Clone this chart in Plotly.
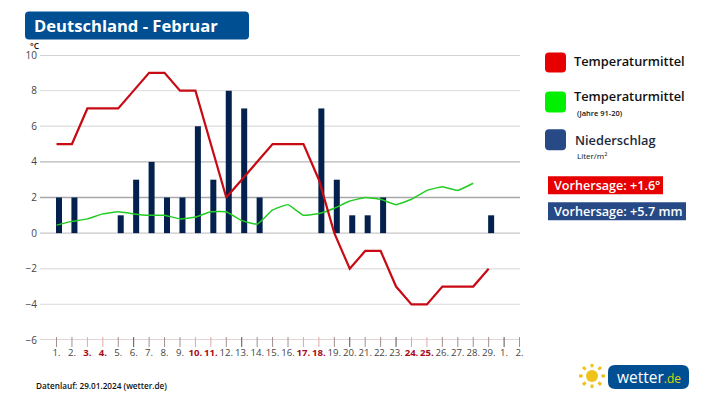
import plotly.graph_objects as go

W, H = 717, 403
L, R, T, B = 40, 520, 54.5, 340

# data
days = list(range(1, 30))
temp = [5, 5, 7, 7, 7, 8, 9, 9, 8, 8, 5, 2, 3, 4, 5, 5, 5, 3, 0, -2, -1, -1, -3, -4, -4, -3, -3, -3, -2]
temp_days = days
clim = [0.45, 0.66, 0.8, 1.08, 1.2, 1.08, 1.0, 1.0, 0.8, 0.9, 1.2, 1.2, 0.7, 0.5, 1.3, 1.6, 1.0, 1.1, 1.4, 1.8, 2.0, 1.9, 1.6, 1.9, 2.4, 2.6, 2.4, 2.8]
clim_days = days[:28]
rain = [2, 2, 0, 0, 1, 3, 4, 2, 2, 6, 3, 8, 7, 2, 0, 0, 0, 7, 3, 1, 1, 2, 0, 0, 0, 0, 0, 0, 1]
tick_pos = list(range(1, 32))
tick_names = ["1", "2", "3", "4", "5", "6", "7", "8", "9", "10", "11", "12", "13", "14", "15",
              "16", "17", "18", "19", "20", "21", "22", "23", "24", "25", "26", "27", "28", "29", "1", "2"]
weekend = [3, 4, 10, 11, 17, 18, 24, 25]
dark_ticks = [6, 13, 20, 23, 30]
y_ticks = [10, 8, 6, 4, 2, 0, -2, -4, -6]
grid_colors = ["#c4c4c4", "#e2e2e2", "#e2e2e2", "#b8b8b8", "#a8a8a8", "#c8c8c8", "#e2e2e2", "#e2e2e2", "#d8c8c8"]


# chart area in paper terms so helper pixels line up
def pax(x):
    return (x - L) / (R - L)


def pay(y):
    return (B - y) / (B - T)


def rrect(x0, y0, x1, y1, r, color):
    x0, x1 = pax(x0), pax(x1)
    rx = r / (R - L)
    ry = r / (B - T)
    top, bot = pay(y0), pay(y1)
    path = (f"M {x0+rx},{top} L {x1-rx},{top} Q {x1},{top} {x1},{top-ry} L {x1},{bot+ry} "
            f"Q {x1},{bot} {x1-rx},{bot} L {x0+rx},{bot} Q {x0},{bot} {x0},{bot+ry} "
            f"L {x0},{top-ry} Q {x0},{top} {x0+rx},{top} Z")
    return dict(type="path", path=path, xref="paper", yref="paper", fillcolor=color, line=dict(width=0))


def label(x, y, text, size, color="#111111", weight=600):
    return dict(x=pax(x), y=pay(y), xref="paper", yref="paper", text=text,
                showarrow=False, xanchor="left", yanchor="middle",
                font=dict(family="Open Sans", size=size, color=color, weight=weight))


fig = go.Figure()

fig.add_trace(go.Bar(x=days, y=rain, width=0.39, offset=-0.035, marker=dict(color="#04214d", line_width=0)))
fig.add_trace(go.Scatter(x=clim_days, y=clim, mode="lines", line=dict(color="#22cc22", width=1.5, shape="spline", smoothing=0.3)))
fig.add_trace(go.Scatter(x=temp_days, y=temp, mode="lines", line=dict(color="#c80a14", width=2.2)))

shapes = []
for val, col in zip(y_ticks, grid_colors):
    shapes.append(dict(type="line", xref="paper", yref="y", x0=0, x1=1, y0=val, y1=val,
                       line=dict(color=col, width=1.4), layer="below"))
for pos in tick_pos:
    col = "#e0a8a8" if pos in weekend else ("#555555" if pos in dark_ticks else "#a09090")
    shapes.append(dict(type="line", xref="x", yref="paper", x0=pos, x1=pos, y0=pay(337), y1=pay(347),
                       line=dict(color=col, width=1)))

# title box and legend swatches
shapes.append(rrect(25, 11, 249, 39, 4, "#004f93"))
shapes.append(rrect(545, 52, 566, 72, 4, "#e60000"))
shapes.append(rrect(545, 91, 566, 112, 4, "#00f000"))
shapes.append(rrect(545, 129, 566, 150, 4, "#274a86"))
shapes.append(rrect(548, 176, 663, 194, 0, "#e60000"))
shapes.append(rrect(548, 202, 686, 220, 0, "#274a86"))

# logo
shapes.append(rrect(608, 365, 689, 389, 7, "#004f93"))
sun_x, sun_y = 592, 376
for dx, dy in [(-13, 0), (13, 0), (0, -12), (0, 12), (-9, -9), (9, -9), (-9, 9), (9, 9)]:
    shapes.append(dict(type="line", xref="paper", yref="paper",
                       x0=pax(sun_x + dx * 0.72), y0=pay(sun_y + dy * 0.72),
                       x1=pax(sun_x + dx), y1=pay(sun_y + dy),
                       line=dict(color="#eec21a", width=3)))
shapes.append(dict(type="circle", xref="paper", yref="paper", x0=pax(sun_x - 6), x1=pax(sun_x + 6),
                   y0=pay(sun_y - 6), y1=pay(sun_y + 6), fillcolor="#eec21a", line=dict(width=0)))

annotations = [
    label(32, 25, "Deutschland - Februar", 16.6, "white", 700),
    label(28, 45, "°C", 8.5),
    label(572, 61, "Temperaturmittel", 12.8),
    label(572, 96, "Temperaturmittel", 12.8),
    label(575, 113, "(Jahre 91-20)", 7.5),
    label(573, 140, "Niederschlag", 12.8, "#1c2a3c"),
    label(575, 155, "Liter/m<sup>2</sup>", 8, "#111111", 400),
    label(552, 185, "Vorhersage: +1.6°", 12.6, "white"),
    label(552, 211, "Vorhersage: +5.7 mm", 12.6, "white"),
    label(34, 386, "Datenlauf: 29.01.2024 (wetter.de)", 8.2),
    label(615, 377, "wetter<span style='color:#d9d900;font-size:12px'>.de</span>", 15.5, "white", 400),
]

tick_text = []
for i, name in enumerate(tick_names):
    if tick_pos[i] in weekend:
        tick_text.append(f"<b><span style='color:#a80c20'>{name}.</span></b>")
    else:
        tick_text.append(f"{name}.")

fig.update_layout(
    width=W, height=H,
    margin=dict(l=L, r=W - R, t=T, b=H - B, autoexpand=False),
    paper_bgcolor="white", plot_bgcolor="white",
    showlegend=False,
    font=dict(family="Open Sans", color="#444444"),
    shapes=shapes, annotations=annotations,
    xaxis=dict(range=[-0.07, 31.03], tickmode="array", tickvals=tick_pos, ticktext=tick_text,
               showgrid=False, zeroline=False, ticks="", ticklabelstandoff=5, tickangle=0,
               tickfont=dict(size=9.6, color="#444444")),
    yaxis=dict(range=[-6, 10], tickmode="array", tickvals=y_ticks, showgrid=False, zeroline=False,
               ticks="", tickfont=dict(size=10, color="#444444"), ticklabelstandoff=2),
)

# the page's default body margin would push everything 8px off
fig.write_html("out.html", post_script="document.body.style.margin='0';",
               config=dict(displayModeBar=False))
